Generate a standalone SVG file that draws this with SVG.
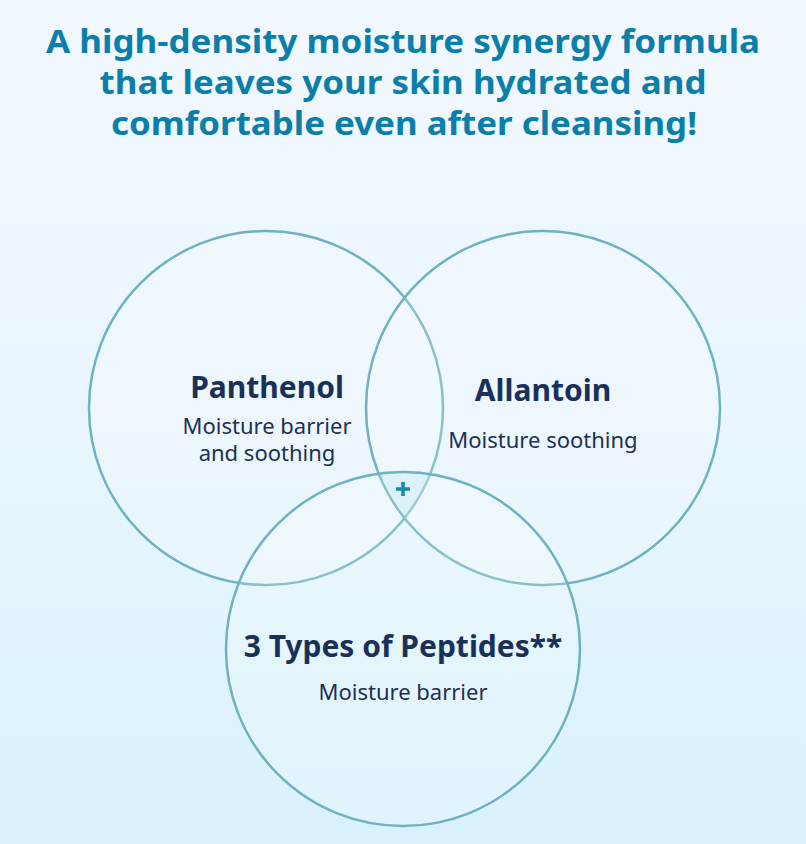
<svg xmlns="http://www.w3.org/2000/svg" width="806" height="844" viewBox="0 0 806 844">
<defs>
<linearGradient id="bg" x1="0" y1="0" x2="0" y2="1">
<stop offset="0" stop-color="#f1f8fe"/>
<stop offset="0.5" stop-color="#e9f6fd"/>
<stop offset="1" stop-color="#d9f1fc"/>
</linearGradient>
<clipPath id="cA"><circle cx="266" cy="408" r="177"/></clipPath>
<clipPath id="cB"><circle cx="543" cy="408" r="177"/></clipPath>
<style>
.title{font-family:"Noto Sans","Open Sans",sans-serif;font-weight:700;font-size:33px;fill:#0b7fa9;text-anchor:middle}
.ring{fill:#ffffff;fill-opacity:0.18;stroke:#6db2be;stroke-width:2.5}
.name{font-family:"Noto Sans","Open Sans",sans-serif;font-weight:700;font-size:30px;fill:#19305a;text-anchor:middle}
.desc{font-family:"Noto Sans","Open Sans",sans-serif;font-size:22px;fill:#1c2f55;text-anchor:middle}
</style>
</defs>
<rect x="0" y="0" width="806" height="844" fill="url(#bg)"/>
<g id="title">
<text class="title" x="403" y="53" textLength="714" lengthAdjust="spacingAndGlyphs">A high-density moisture synergy formula</text>
<text class="title" x="403" y="94" textLength="607" lengthAdjust="spacingAndGlyphs">that leaves your skin hydrated and</text>
<text class="title" x="404" y="135" textLength="586" lengthAdjust="spacingAndGlyphs">comfortable even after cleansing!</text>
</g>
<g id="overlap">
<g clip-path="url(#cA)"><g clip-path="url(#cB)"><circle cx="403" cy="649" r="177" fill="#c4e8f4"/></g></g>
</g>
<g id="panthenol">
<circle class="ring" cx="266" cy="408" r="177"/>
</g>
<g id="allantoin">
<circle class="ring" cx="543" cy="408" r="177"/>
</g>
<g id="peptides">
<circle class="ring" cx="403" cy="649" r="177"/>
</g>
<g id="labels">
<text class="name" x="267" y="398">Panthenol</text>
<text class="desc" x="267" y="434">Moisture barrier</text>
<text class="desc" x="267" y="461">and soothing</text>
<text class="name" x="543" y="401">Allantoin</text>
<text class="desc" x="543" y="448">Moisture soothing</text>
<text class="name" x="403" y="657">3 Types of Peptides**</text>
<text class="desc" x="403" y="700">Moisture barrier</text>
</g>
<g id="plus" stroke="#1789a6" stroke-width="3.5">
<line x1="396" y1="489" x2="410" y2="489"/>
<line x1="403" y1="482" x2="403" y2="496"/>
</g>
</svg>
